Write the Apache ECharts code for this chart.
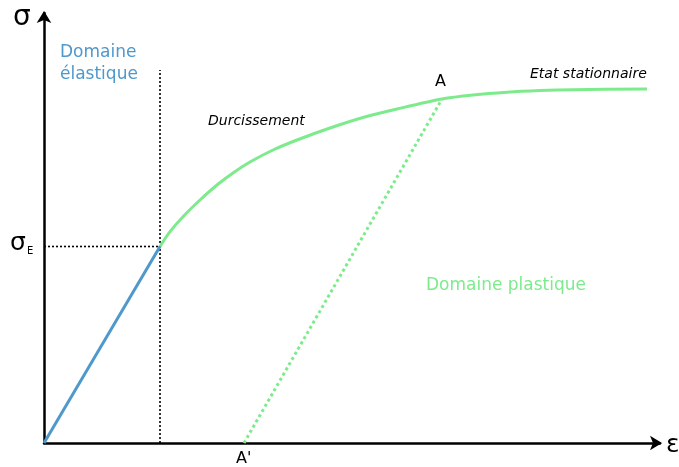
<!DOCTYPE html>
<html><head><meta charset="utf-8">
<script src="https://cdn.jsdelivr.net/npm/echarts@6/dist/echarts.min.js"></script>
<style>html,body{margin:0;padding:0;background:#fff}#c{width:679px;height:467px}</style>
</head><body><div id="c"></div>
<script>
// Data (arbitrary strain / stress units)
const elasticX = [0, 116];
const elasticY = [0, 196.5];
const hardeningX = [116, 126, 139, 156, 173, 189, 206, 229, 253, 286, 319, 353, 398, 429, 463, 496, 529, 603];
const hardeningY = [196.5, 211.3, 226.3, 243, 258, 270, 281, 293, 303, 315, 325.5, 334, 344, 348, 350.8, 352.4, 353.3, 354];
const unloadX = [200, 398];
const unloadY = [0, 344];
const yieldX = 116, yieldY = 196.5, yieldTop = 373;
const xMax = 616, yMax = 430;

const blue = '#4f98cc', green = '#7deb8c';
const pairs = (xs, ys) => xs.map((x, i) => [x, ys[i]]);

const chart = echarts.init(document.getElementById('c'));
const ff = 'DejaVu Sans';
const txt = (left, top, text, size, fill, extra) => ({ type: 'text', left, top,
  style: Object.assign({ text, fontSize: size, fontFamily: ff, fill }, extra || {}) });
chart.setOption({
  animation: false,
  grid: { left: 44, right: 19, top: 13, bottom: 24 },
  xAxis: { type: 'value', min: 0, max: xMax, splitLine: { show: false }, axisTick: { show: false }, axisLabel: { show: false },
    axisLine: { lineStyle: { color: '#000', width: 2.5 }, symbol: ['none', 'arrow'], symbolSize: [11, 12], symbolOffset: [0, 2] } },
  yAxis: { type: 'value', min: 0, max: yMax, splitLine: { show: false }, axisTick: { show: false }, axisLabel: { show: false },
    axisLine: { lineStyle: { color: '#000', width: 2.5 }, symbol: ['none', 'arrow'], symbolSize: [11, 12], symbolOffset: [0, 2] } },
  series: [
    { type: 'line', data: [[yieldX, 0], [yieldX, yieldTop]], symbol: 'none', lineStyle: { color: '#000', width: 1.6, type: [2, 2] } },
    { type: 'line', data: [[0, yieldY], [yieldX, yieldY]], symbol: 'none', lineStyle: { color: '#000', width: 1.6, type: [2, 2] } },
    { type: 'line', data: pairs(unloadX, unloadY), symbol: 'none', lineStyle: { color: green, width: 3, type: [3, 3] } },
    { type: 'line', data: pairs(hardeningX, hardeningY), symbol: 'none', smooth: 0.3, lineStyle: { color: green, width: 3 } },
    { type: 'line', data: pairs(elasticX, elasticY), symbol: 'none', lineStyle: { color: blue, width: 3 } }
  ],
  graphic: [
    txt(13, 4, 'σ', 28, '#000'),
    txt(10, 231, 'σ', 25, '#000'),
    txt(27, 246, 'E', 10, '#000'),
    txt(60, 42, 'Domaine\nélastique', 17, blue, { lineHeight: 22 }),
    txt(208, 114, 'Durcissement', 14, '#000', { fontStyle: 'italic' }),
    txt(435, 74, 'A', 16, '#000'),
    txt(530, 67, 'Etat stationnaire', 14, '#000', { fontStyle: 'italic' }),
    txt(236, 451, "A'", 16, '#000'),
    txt(666, 433, 'ε', 25, '#000'),
    txt(426, 277, 'Domaine plastique', 17, green)
  ]
});
</script></body></html>
